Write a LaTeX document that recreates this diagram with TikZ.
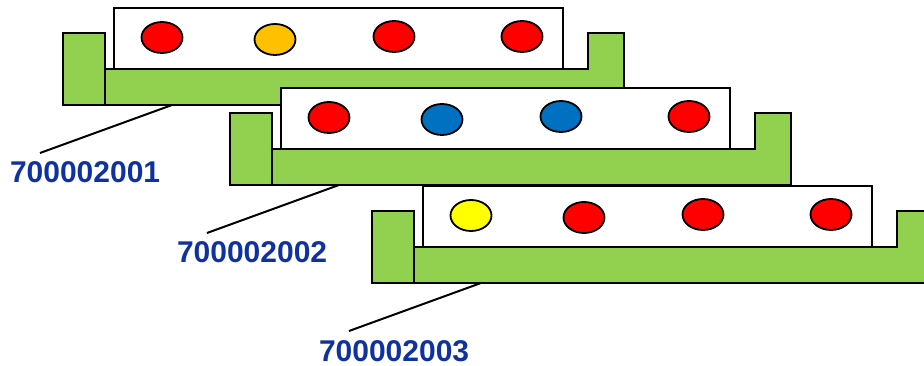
\documentclass[tikz,border=0pt]{standalone}
\usepackage{fontspec}
\setmainfont{Liberation Sans}
\usetikzlibrary{shapes.geometric,calc}
\definecolor{trayGreen}{RGB}{146,208,80}
\definecolor{dotRed}{RGB}{255,0,0}
\definecolor{dotOrange}{RGB}{255,192,0}
\definecolor{dotBlue}{RGB}{0,112,192}
\definecolor{dotYellow}{RGB}{255,255,0}
\definecolor{labelBlue}{RGB}{16,50,160}

% One carrier: green U-frame, white panel on top, four coloured dots,
% a serial-number tag and a leader line from the tag to the frame.
% #1 = name prefix, #2 = shift, #3..#6 = dot colours, #7 = tag text
\newcommand\carrier[7]{%
  \begin{scope}[shift={#2}]
    \path[frame] (63,33) rectangle (105,105);
    \path[frame] (105,69) -- (588,69) -- (588,33) -- (624,33)
                 -- (624,105) -- (105,105) -- cycle;
    \path[panel] (114,8) rectangle (563,69);
    \node[dot, fill=#3] (#1-d1) at (162,37.5) {};
    \node[dot, fill=#4] (#1-d2) at (275,39.5) {};
    \node[dot, fill=#5] (#1-d3) at (394,36.5) {};
    \node[dot, fill=#6] (#1-d4) at (522,36.5) {};
    \coordinate (#1-foot) at (172,105);
    \node[tag] (#1-tag) at (9,183) {#7};
    \coordinate (#1-end) at ($(#1-tag.base west)+(31,-30)$);
    \draw[lead] (#1-foot) -- (#1-end);
  \end{scope}}

\begin{document}
\begin{tikzpicture}[x=1pt, y=-1pt, line width=2pt, line join=miter,
  frame/.style={draw=black, fill=trayGreen},
  panel/.style={draw=black, fill=white},
  dot/.style={ellipse, draw=black, line width=1.8pt,
              minimum width=41pt, minimum height=31pt, inner sep=0pt},
  lead/.style={draw=black, line width=2pt},
  tag/.style={text=labelBlue, font=\fontsize{30}{31}\selectfont\bfseries,
              inner sep=0pt, text depth=0pt, anchor=base west}]
  \useasboundingbox (0,0) rectangle (924,366);
  \clip (0,0) rectangle (924,366);

  \carrier{c1}{(0,0)}{dotRed}{dotOrange}{dotRed}{dotRed}{700002001}
  \carrier{c2}{(167,80)}{dotRed}{dotBlue}{dotBlue}{dotRed}{700002002}
  \carrier{c3}{(309,178)}{dotYellow}{dotRed}{dotRed}{dotRed}{700002003}
\end{tikzpicture}
\end{document}
